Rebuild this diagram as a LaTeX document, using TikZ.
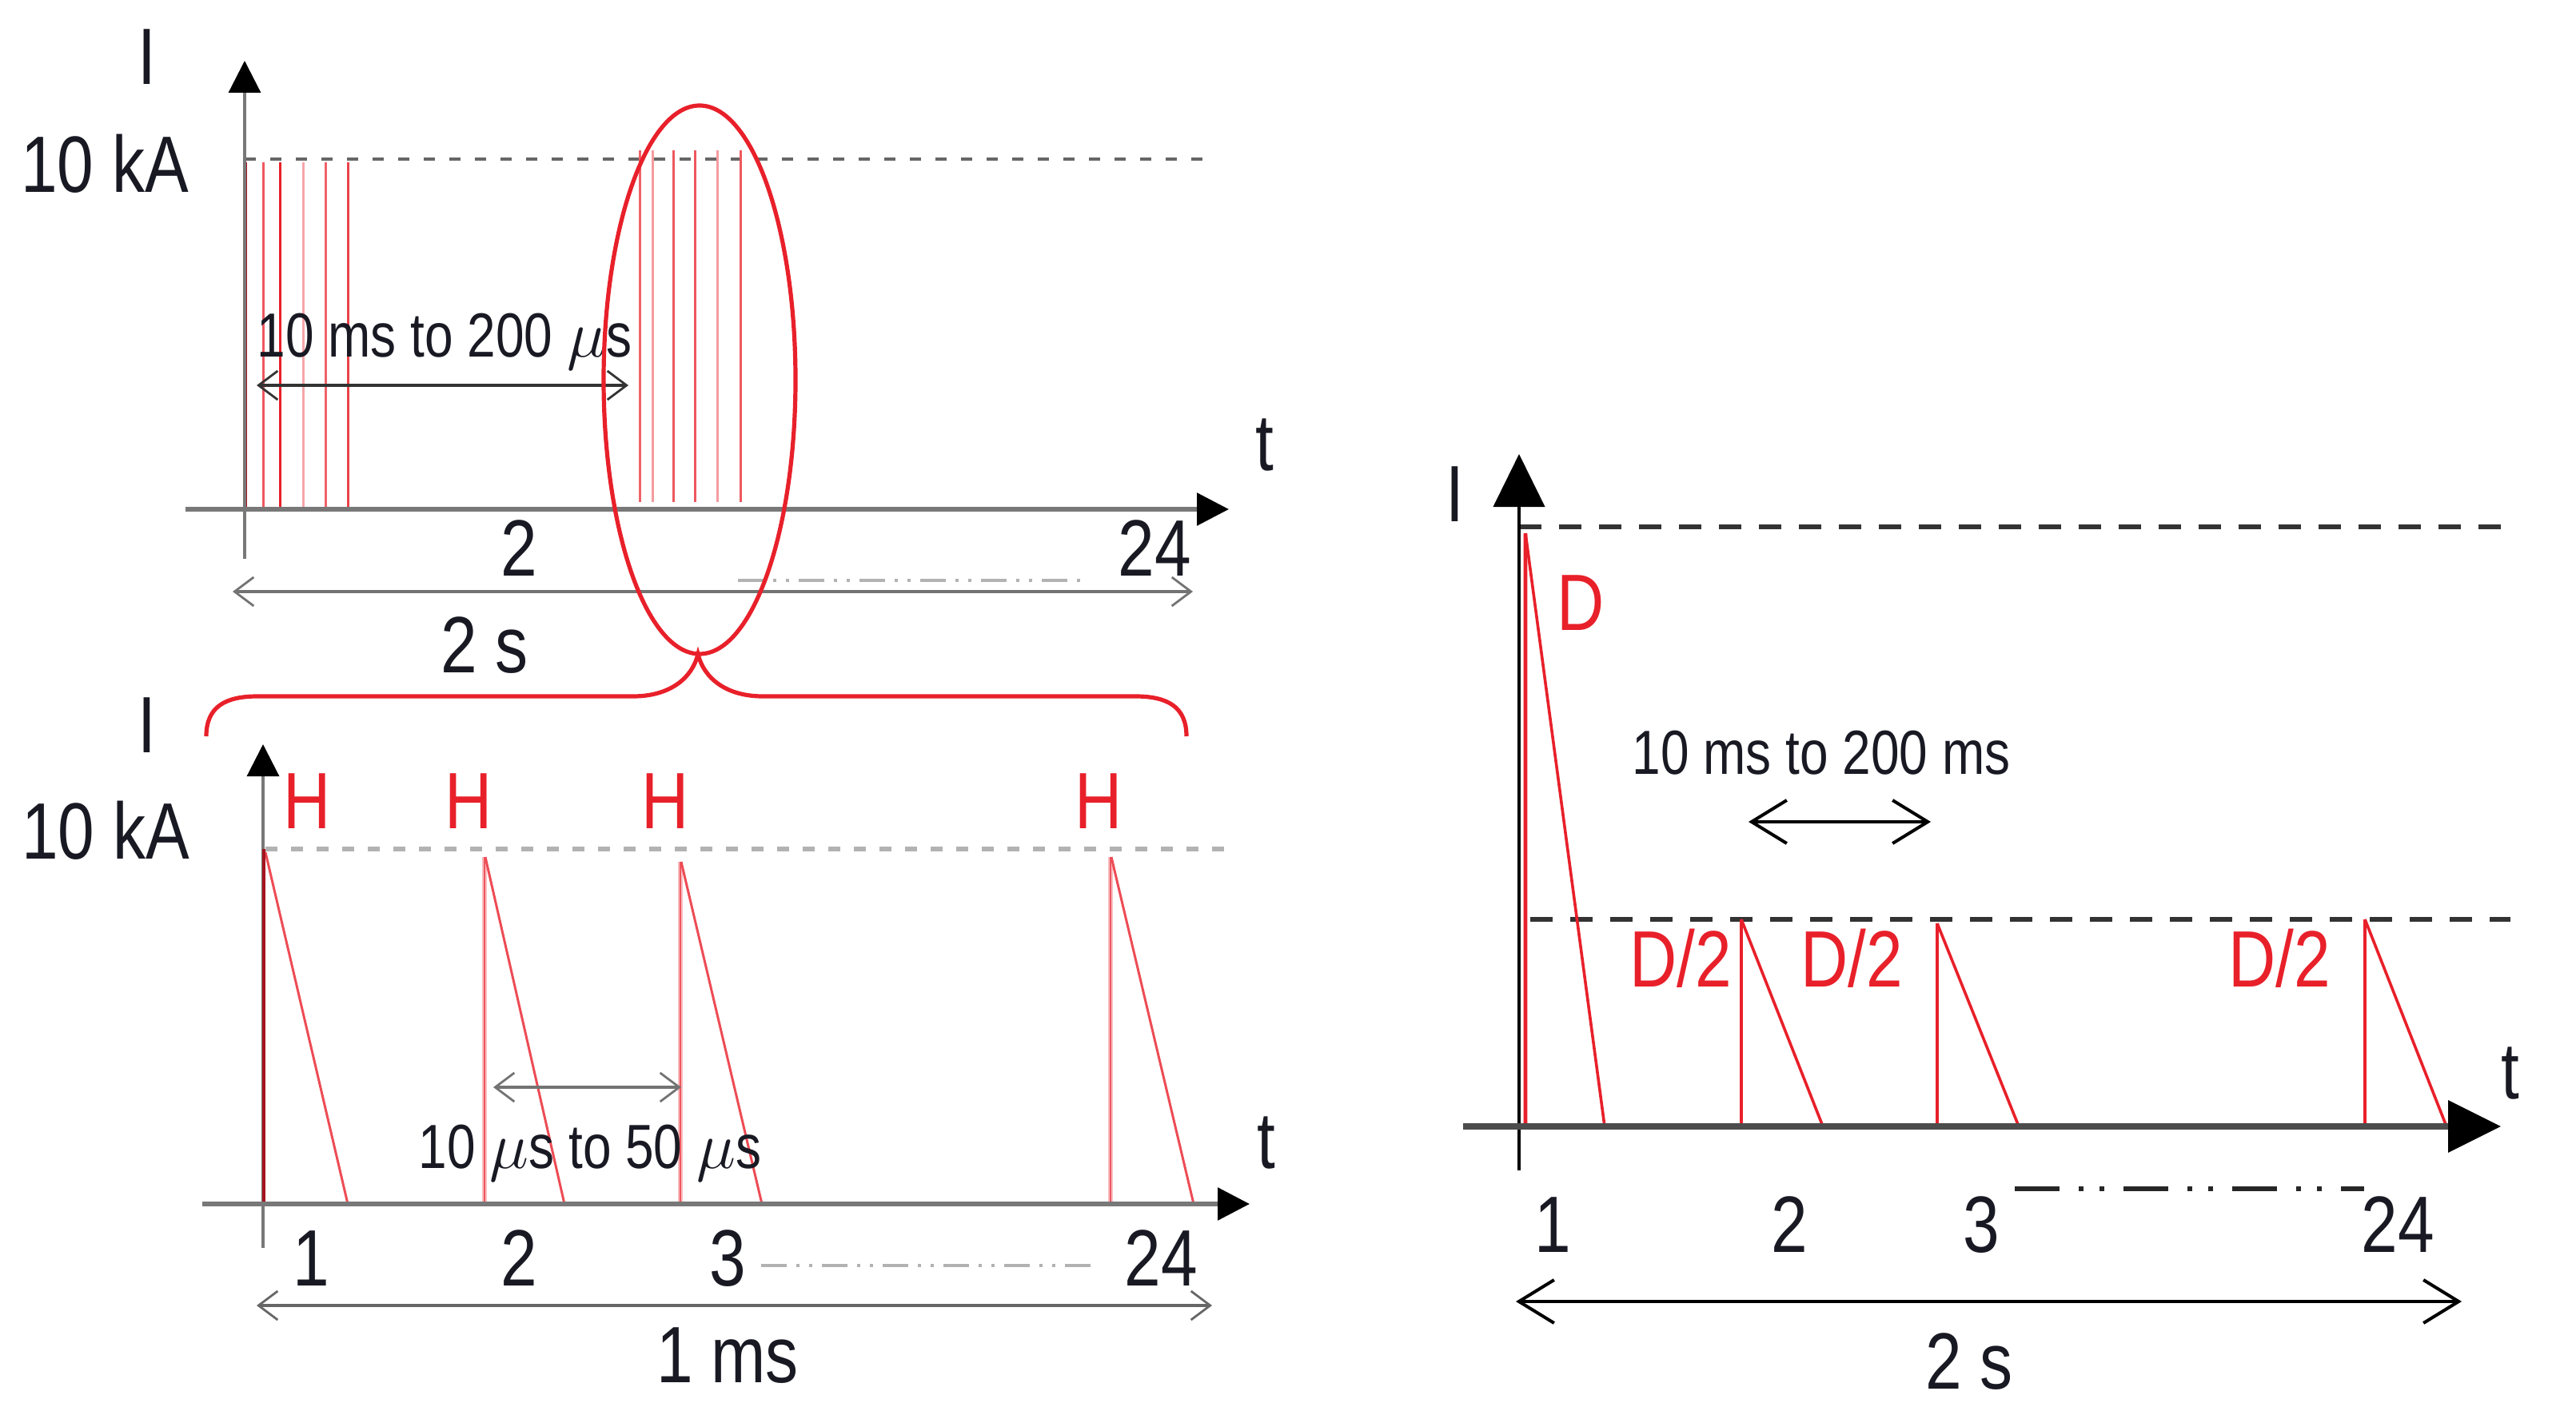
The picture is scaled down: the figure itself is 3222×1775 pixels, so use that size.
\documentclass[tikz,border=0pt]{standalone}
\usepackage{fontspec}
\setmainfont{Liberation Sans}[FakeStretch=0.82]
\usetikzlibrary{arrows.meta}
\definecolor{rd}{RGB}{232,32,42}
\definecolor{drd}{RGB}{165,20,30}
\definecolor{txt}{RGB}{25,25,35}
\definecolor{axg}{RGB}{120,120,120}
\begin{document}
\begin{tikzpicture}[x=0.25pt,y=-0.25pt,line cap=butt,
  big/.style={font=\fontsize{25pt}{30pt}\selectfont, text=txt, inner sep=0pt, anchor=base},
  small/.style={font=\fontsize{19.5pt}{24pt}\selectfont, text=txt, inner sep=0pt, anchor=base},
  redlbl/.style={big, text=rd},
  axtip/.style={-{Triangle[length=10pt,width=10pt,color=black]}},
  bigtip/.style={-{Triangle[length=16.5pt,width=16pt,color=black]}},
  barbs/.style={{Straight Barb[length=6pt,width=9pt,line width=0.7pt]}-{Straight Barb[length=6pt,width=9pt,line width=0.7pt]}},
  bigbarbs/.style={{Straight Barb[length=11pt,width=13.5pt,line width=1pt]}-{Straight Barb[length=11pt,width=13.5pt,line width=1pt]}},
  pulse/.style={line width=0.75pt},
  dashdot/.style={dash pattern=on 8pt off 3pt on 1pt off 3pt on 1pt off 3pt}
]
\useasboundingbox (0,0) rectangle (3222,1775);

% ================= top-left panel =================
\draw[black!60, line width=1.2pt, dash pattern=on 3.5pt off 4.5pt] (306,199) -- (1521,199);
\foreach \x/\c in {307/drd,329/rd!75,350/rd,379/rd!40,407/rd!70,435/rd!85}
  \draw[pulse,\c] (\x,203) -- (\x,640);
\foreach \x/\c in {800/rd!70,816/rd!45,842/rd!75,869/rd!75,897/rd!45,926/rd!75}
  \draw[pulse,\c] (\x,188) -- (\x,628);
\draw[axg, line width=0.8pt, axtip] (306,699) -- (306,76);
\draw[axg, line width=1.5pt, axtip] (232,637) -- (1537,637);
\draw[black!80, line width=1.2pt, barbs] (321,482) -- (786,482);
\draw[black!55, line width=1pt, barbs] (291,740) -- (1492,740);
\draw[black!30, line width=1pt, dashdot] (923,726) -- (1352,726);
\node[big] (tlI) at (184,106) {I};
\node[big] (tlk) at (131,241) {10 kA};
\node[big] (tlt) at (1582,588) {t};
\node[big] (tl2) at (649,720) {2};
\node[big] (tl24) at (1444,720) {24};
\node[big] (tl2s) at (606,841) {2 s};
\node[small, anchor=base west] (tlr) at (321,447) {10 ms to 200 $\mu$s};
\draw[rd, line width=1.3pt] (875,475) ellipse [x radius=30pt, y radius=85.75pt];
\draw[rd, line width=1.3pt]
  (258,921) .. controls (258,884) and (282,871) .. (322,871) -- (792,871)
  .. controls (838,871) and (866,848) .. (873,818)
  .. controls (880,848) and (908,871) .. (954,871) -- (1420,871)
  .. controls (1460,871) and (1484,884) .. (1484,921);

% ================= bottom-left panel =================
\draw[black!30, line width=1.7pt, dash pattern=on 3.8pt off 4.2pt] (332,1062) -- (1547,1062);
\foreach \x/\t in {606/1072,851/1078,1389/1072}{
  \draw[rd!30, line width=1.3pt] (\x,\t) -- (\x,1506);
  \draw[rd!75, line width=0.4pt] (\x,\t) -- (\x,1506);
}
\draw[rd!80, pulse] (332,1066) -- (435,1506);
\draw[rd!80, pulse] (607,1072) -- (706,1506);
\draw[rd!80, pulse] (852,1078) -- (953,1506);
\draw[rd!80, pulse] (1390,1072) -- (1493,1506);
\draw[axg, line width=0.8pt, axtip] (329,1561) -- (329,931);
\draw[drd, line width=1pt] (330,1062) -- (330,1506);
\draw[axg, line width=1.5pt, axtip] (253,1506) -- (1563,1506);
\draw[black!55, line width=1.1pt, barbs] (617,1360) -- (852,1360);
\draw[black!60, line width=1.1pt, barbs] (321,1633) -- (1516,1633);
\draw[black!30, line width=1pt, dashdot] (952,1583) -- (1373,1583);
\node[big] (blI) at (184,941) {I};
\node[big] (blk) at (132,1074) {10 kA};
\foreach \x [count=\i] in {384,586,832,1374}
  \node[redlbl] (H\i) at (\x,1036) {H};
\node[big] (blt) at (1584,1461) {t};
\node[small, anchor=base west] (blr) at (523,1461) {10 $\mu$s to 50 $\mu$s};
\node[big] (bl1) at (389,1608) {1};
\node[big] (bl2) at (649,1608) {2};
\node[big] (bl3) at (910,1608) {3};
\node[big] (bl24) at (1452,1608) {24};
\node[big] (blms) at (910,1729) {1 ms};

% ================= right panel =================
\draw[black!80, line width=1.4pt, dash pattern=on 7pt off 5.5pt] (1900,659) -- (3134,659);
\draw[black!80, line width=1.4pt, dash pattern=on 7pt off 5.5pt] (1914,1150) -- (3140,1150);
\draw[rd!35, line width=1.5pt] (1908,667) -- (1908,1409);
\draw[rd, line width=0.8pt] (1908,667) -- (1908,1409);
\draw[rd, line width=0.9pt] (1908,667) -- (2007,1409);
\foreach \x/\t in {2178/1150,2423/1155,2958/1150}{
  \draw[rd, line width=0.9pt] (\x,\t) -- (\x,1409);
  \draw[rd, line width=0.9pt] (\x,\t) -- (\x+102,1409);
}
\draw[black, line width=1pt, bigtip] (1900,1464) -- (1900,568);
\draw[black!70, line width=1.8pt, bigtip] (1830,1409) -- (3128,1409);
\draw[black, line width=1.1pt, bigbarbs] (2187,1028) -- (2415,1028);
\draw[black, line width=1.2pt, bigbarbs] (1896,1628) -- (3079,1628);
\draw[black!85, line width=1.4pt, dash pattern=on 14pt off 6pt on 1.5pt off 5pt on 1.5pt off 6pt] (2520,1487) -- (2957,1487);
\node[big] (rI) at (1820,652) {I};
\node[redlbl] (rD) at (1977,788) {D};
\node[redlbl] (rD1) at (2102,1234) {D/2};
\node[redlbl] (rD2) at (2316,1234) {D/2};
\node[redlbl] (rD3) at (2851,1234) {D/2};
\node[small] (rr) at (2278,968) {10 ms to 200 ms};
\node[big] (rt) at (3140,1374) {t};
\node[big] (r1) at (1942,1566) {1};
\node[big] (r2) at (2238,1566) {2};
\node[big] (r3) at (2478,1566) {3};
\node[big] (r24) at (2999,1566) {24};
\node[big] (r2s) at (2463,1737) {2 s};
\end{tikzpicture}
\end{document}
